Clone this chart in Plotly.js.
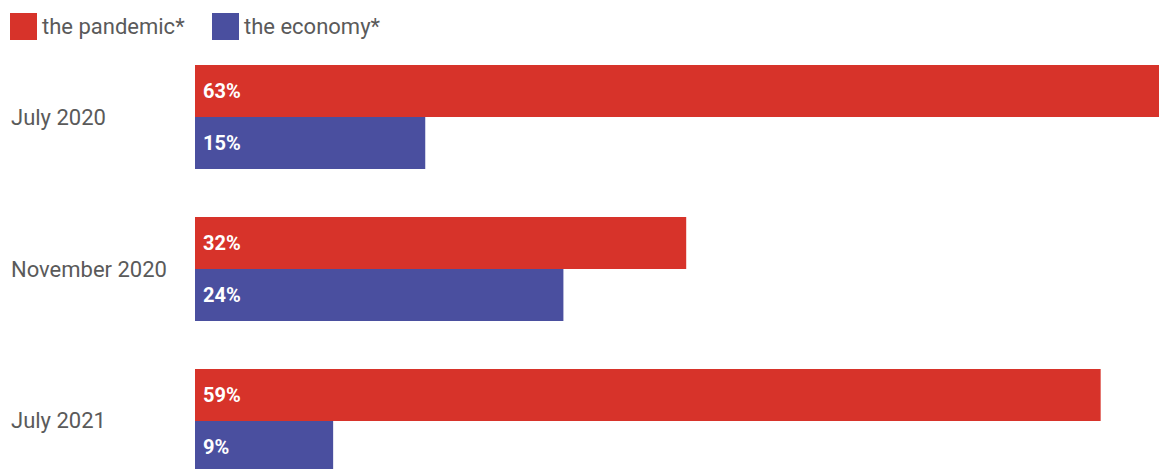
<!DOCTYPE html>
<html>
<head>
<meta charset="utf-8">
<script src="https://cdn.plot.ly/plotly-3.0.1.min.js"></script>
<style>html,body{margin:0;padding:0;background:#fff;}#chart{width:1159px;height:469px;}</style>
</head>
<body>
<div id="chart"></div>
<script>
var categories = ["July 2020", "November 2020", "July 2021"];
var seriesNames = ["the pandemic*", "the economy*"];
var pandemic = [63, 32, 59];
var economy = [15, 24, 9];
var colors = ["#d7332a", "#4a4f9f"];

var W = 1159, H = 469, L = 195, T = 45;
var plotW = W - L, plotH = H - T;
function px(x) { return (x - L) / plotW; }
function py(y) { return 1 - (y - T) / plotH; }

function barTrace(name, vals, color) {
  return {
    type: "bar", orientation: "h", name: name,
    y: categories, x: vals,
    marker: {color: color},
    texttemplate: "\u00a0%{x}%",
    textposition: "inside", insidetextanchor: "start",
    textfont: {family: "Roboto", size: 20, color: "#ffffff", weight: "bold"},
    hoverinfo: "skip", showlegend: false
  };
}

var data = [barTrace(seriesNames[0], pandemic, colors[0]), barTrace(seriesNames[1], economy, colors[1])];

var shapes = [], annotations = [];
var legendX = [10, 212];
seriesNames.forEach(function (n, i) {
  shapes.push({type: "rect", xref: "paper", yref: "paper",
    x0: px(legendX[i]), x1: px(legendX[i] + 27), y0: py(40), y1: py(13),
    fillcolor: colors[i], line: {width: 0}});
  annotations.push({xref: "paper", yref: "paper", x: px(legendX[i] + 30), y: py(26),
    xanchor: "left", yanchor: "middle", showarrow: false, text: n,
    font: {family: "Roboto", size: 22, color: "#5a5a5a"}});
});
categories.forEach(function (c) {
  annotations.push({xref: "paper", yref: "y", x: px(9), y: c,
    xanchor: "left", yanchor: "middle", showarrow: false, text: c,
    font: {family: "Roboto", size: 22, color: "#5a5a5a"}});
});

var layout = {
  width: W, height: H,
  margin: {l: L, r: 0, t: T, b: 0, pad: 0},
  paper_bgcolor: "#ffffff", plot_bgcolor: "#ffffff",
  barmode: "group", bargap: 0.316, bargroupgap: 0,
  xaxis: {range: [0, 62.8], visible: false, fixedrange: true},
  yaxis: {range: [2.316, -0.474], showticklabels: false, showgrid: false, zeroline: false, showline: false, ticks: "", fixedrange: true},
  showlegend: false,
  shapes: shapes, annotations: annotations,
  font: {family: "Roboto"}
};

Plotly.newPlot("chart", data, layout, {displayModeBar: false, staticPlot: true});
</script>
</body>
</html>
